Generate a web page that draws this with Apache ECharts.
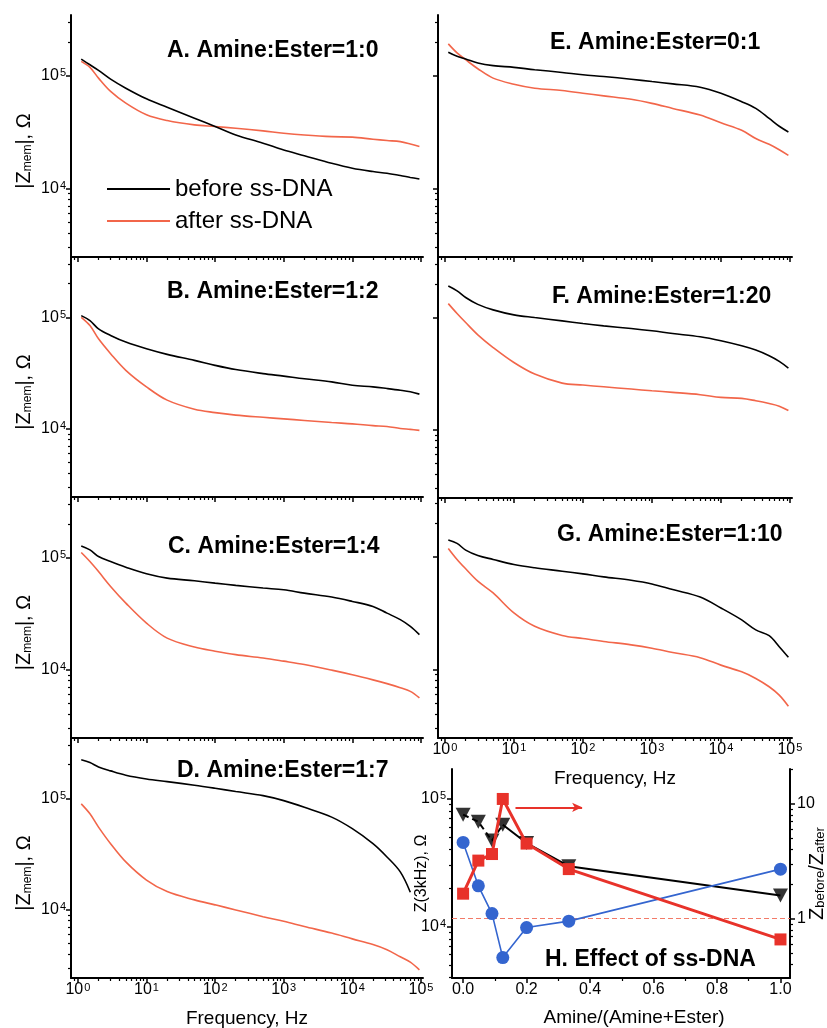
<!DOCTYPE html>
<html><head><meta charset="utf-8">
<script src="https://cdn.jsdelivr.net/npm/echarts@6/dist/echarts.min.js"></script>
<style>html,body{margin:0;padding:0;background:#fff}#c{width:827px;height:1028px}</style>
</head><body><div id="c"></div>
<script>
// ---------- data ----------
const freqHz = [1.12,1.5,2,3,5,10,20,50,100,200,500,1000,2000,5000,10000,20000,32000,50000,70000,95000];

const A_before = [140600,125300,111700,93400,77600,62400,52600,42000,35400,29800,25200,21900,19500,16700,15100,14100,13600,13000,12500,12100];
const A_after  = [134200,118700,95300,72600,57100,45000,40000,36600,35400,34200,32400,30900,29800,28800,28500,27300,26600,26000,24800,23500];
const B_before = [103500,93400,78700,68700,59900,52200,46500,41100,37100,34000,31300,29700,28100,26400,24600,23800,23000,22200,21500,20500];
const B_after  = [100000,84300,64100,47200,33500,23800,18100,15000,14000,13300,12700,12300,11900,11400,11100,10700,10500,10100,9900,9700];
const C_before = [127000,117000,102100,92100,82000,71600,65500,62000,59100,56400,53400,51600,48100,44400,40600,36600,31900,27900,24300,20500];
const C_after  = [110800,92100,75000,55200,39200,26000,19100,15900,14600,13600,12700,11900,11100,9900,9000,8100,7500,6900,6400,5600];
const D_before = [221000,209000,191000,176000,161000,149000,141000,131000,123000,115000,105600,95300,83100,67800,53400,39200,29800,21900,14400,null];
const D_after  = [89100,72600,55200,39200,26900,18500,14600,12300,11100,10000,8700,7900,7100,6200,5500,4900,4400,3800,3400,2900];
const E_before = [161900,148900,141000,129800,123000,118800,113200,107100,102100,98600,93300,88900,84800,79200,70000,58900,51300,41800,35600,31700];
const E_after  = [192000,159700,139000,115500,95300,84200,77600,74000,70000,66300,61800,56900,51300,44800,38200,32800,27700,24600,22000,19600];
const F_before = [191000,173000,151000,131000,117000,105600,100000,93400,88400,84300,79800,76100,72000,67300,62000,55900,51200,45600,40600,35400];
const F_after  = [133000,108600,90200,70100,54000,39700,31300,26000,25000,24100,23000,22200,21500,20500,19400,19000,18100,17100,16200,14800];
const G_before = [140900,131500,114700,102800,94700,85400,79800,74500,70500,66300,61900,57400,51100,43900,35100,27500,22400,19900,15900,12800];
const G_after  = [118700,94700,78200,60700,47700,31700,24100,20000,18800,17700,16500,15400,14100,12700,10900,9500,8300,7000,5900,4700];

const panelTitles = ['A. Amine:Ester=1:0','B. Amine:Ester=1:2','C. Amine:Ester=1:4','D. Amine:Ester=1:7',
                     'E. Amine:Ester=0:1','F. Amine:Ester=1:20','G. Amine:Ester=1:10'];
const seriesNames = ['before ss-DNA','after ss-DNA'];

// panel H
const H_fraction = [0, 0.048, 0.091, 0.125, 0.2, 0.333, 1.0];
const H_Zbefore  = [75000, 66000, 47000, 62500, 45000, 29600, 17500];
const H_Zafter   = [45500, 20800, 12600, 5700, 9800, 11000, 28100];
const H_ratio    = [1.65, 3.2, 3.65, 11.0, 4.5, 2.7, 0.66];
const H_title = 'H. Effect of ss-DNA';

// tick values
const freqMajor = [1,10,100,1000,10000,100000];
const freqMinor = [0.9,2,3,4,5,6,7,8,9,20,30,40,50,60,70,80,90,200,300,400,500,600,700,800,900,
  2000,3000,4000,5000,6000,7000,8000,9000,20000,30000,40000,50000,60000,70000,80000,90000];
const zMajor = [10000,100000];
const zMinorPanel = [3000,4000,5000,6000,7000,8000,9000,200000,300000];
const zMinorH = [4000,5000,6000,7000,8000,9000,20000,30000,40000,50000,60000,70000,80000,90000];
const ratioMajor = [1,10];
const ratioMinor = [0.4,0.5,0.6,0.7,0.8,0.9,2,3,4,5,6,7,8,9];
const fracMajor = [0,0.2,0.4,0.6,0.8,1.0];
const fracMinor = [0.1,0.3,0.5,0.7,0.9];

// ---------- layout / style ----------
const lg = Math.log10;
const FONT = 'Liberation Sans';
const RED = '#f2664a', BLACK = '#000000';
const H_RED = '#e8322a', H_BLUE = '#3465cf';
const gridBoxes = [
  {left:71, top:15, width:352, height:242},
  {left:71, top:257, width:352, height:240},
  {left:71, top:497, width:352, height:241},
  {left:71, top:738, width:352, height:240},
  {left:438, top:15, width:354, height:242},
  {left:438, top:257, width:354, height:241},
  {left:438, top:496, width:354, height:242},
  {left:452, top:769, width:338, height:209}
];
const titlePos = [[167,51],[167,292],[168,547],[177,771],[550,43],[552,297],[557,535]];
const X_MIN = -0.1, X_MAX = 5.03, Y_MIN = 3.39, Y_MAX = 5.54;

const supRich = {
  b: {fontSize:16, fontFamily:FONT, color:'#000'},
  s: {fontSize:11, fontFamily:FONT, color:'#000', verticalAlign:'top', padding:[0,0,0,1]}
};
const logLabel = v => '{b|10}{s|' + Math.round(v) + '}';

const xAxes = [], yAxes = [], series = [];
function addAxes(list, base, majorVals, minorVals, label, extra) {
  const main = Object.assign({}, base, {
    axisLine: {show:true, onZero:false, lineStyle:{color:'#000', width:2}},
    axisTick: {show:true, inside:false, length:5, customValues:majorVals, lineStyle:{color:'#000', width:1.5}},
    axisLabel: label ? Object.assign({show:true, customValues:majorVals}, label) : {show:false},
    splitLine: {show:false}, minorTick:{show:false}, nameMoveOverlap:false
  }, extra || {});
  const mi = Object.assign({}, base, {
    axisLine: {show:false, onZero:false},
    axisTick: {show:true, inside:false, length:3, customValues:minorVals, lineStyle:{color:'#000', width:1.2}},
    axisLabel: {show:false}, splitLine:{show:false}, minorTick:{show:false}
  });
  list.push(main, mi);
  return list.length - 2;
}

const panelData = [
  [A_before, A_after],[B_before, B_after],[C_before, C_after],[D_before, D_after],
  [E_before, E_after],[F_before, F_after],[G_before, G_after]
];
const freqLabel = {margin:4, formatter:logLabel, rich:supRich};
const zLabel = {margin:5, formatter:logLabel, rich:supRich};
const freqName = {name:'Frequency, Hz', nameLocation:'middle', nameGap:31,
  nameTextStyle:{fontSize:19, fontFamily:FONT, color:'#000'}};
const zName = {name:'|Z{sub|mem}|, Ω', nameLocation:'middle', nameGap:37,
  nameTextStyle:{fontSize:20, fontFamily:FONT, color:'#000', padding:[0,30,0,0],
    rich:{sub:{fontSize:12, fontFamily:FONT, color:'#000', verticalAlign:'bottom'}}}};

for (let i = 0; i < 7; i++) {
  const leftCol = i < 4;
  const bottomRow = (i === 3 || i === 6);
  const xi = addAxes(xAxes, {type:'value', gridIndex:i, position:'bottom', min:X_MIN, max:X_MAX},
    freqMajor.map(lg), freqMinor.map(lg), bottomRow ? freqLabel : null, bottomRow ? freqName : null);
  const yi = addAxes(yAxes, {type:'value', gridIndex:i, position:'left', min:Y_MIN, max:Y_MAX},
    zMajor.map(lg), zMinorPanel.map(lg), leftCol ? zLabel : null, leftCol ? zName : null);
  panelData[i].forEach((vals, k) => {
    const col = k === 0 ? BLACK : RED;
    series.push({
      type:'line', name: seriesNames[k], xAxisIndex:xi, yAxisIndex:yi,
      data: freqHz.map((f, j) => vals[j] == null ? null : [lg(f), lg(vals[j])]).filter(Boolean),
      showSymbol:false, smooth:0.35, color:col,
      itemStyle:{color:col}, lineStyle:{color:col, width:1.6}, z: k === 0 ? 3 : 2
    });
  });
}

// panel H axes
const hx = addAxes(xAxes, {type:'value', gridIndex:7, position:'bottom', min:-0.035, max:1.03},
  fracMajor, fracMinor, {margin:4, fontSize:16, fontFamily:FONT, color:'#000', formatter: v => v.toFixed(1)},
  {name:'Amine/(Amine+Ester)', nameLocation:'middle', nameGap:30,
   nameTextStyle:{fontSize:19, fontFamily:FONT, color:'#000', padding:[0,0,0,26]}});
const hyl = addAxes(yAxes, {type:'value', gridIndex:7, position:'left', min:3.596, max:5.233},
  zMajor.map(lg), zMinorH.map(lg), {margin:6, formatter:logLabel, rich:supRich},
  {name:'Z(3kHz), Ω', nameLocation:'middle', nameGap:22,
   nameTextStyle:{fontSize:16, fontFamily:FONT, color:'#000'}});
const hyr = addAxes(yAxes, {type:'value', gridIndex:7, position:'right', min:-0.516, max:1.302},
  ratioMajor.map(lg), ratioMinor.map(lg).concat([lg(20)]),
  {margin:7, fontSize:16, fontFamily:FONT, color:'#000', formatter: v => (Math.round(v) === 0 ? '1' : '10')},
  {name:'Z{sub|before}/Z{sub|after}', nameLocation:'middle', nameGap:17,
   nameTextStyle:{fontSize:20, fontFamily:FONT, color:'#000',
     rich:{sub:{fontSize:13, fontFamily:FONT, color:'#000', verticalAlign:'bottom'}}}});

const hBefore = H_fraction.map((x, j) => [x, lg(H_Zbefore[j])]);
series.push({type:'line', name:'Zbefore dashed', xAxisIndex:hx, yAxisIndex:hyl, data:hBefore.slice(0,4),
  showSymbol:false, lineStyle:{color:BLACK, width:2, type:[6,4]}, z:3});
series.push({type:'line', name:'Zbefore solid', xAxisIndex:hx, yAxisIndex:hyl, data:hBefore.slice(3),
  showSymbol:false, lineStyle:{color:BLACK, width:2}, z:3});
series.push({type:'scatter', name:'Zbefore', xAxisIndex:hx, yAxisIndex:hyl, data:hBefore,
  symbol:'triangle', symbolRotate:180, symbolSize:[15,14], itemStyle:{color:BLACK}, z:4});
series.push({type:'line', name:'Zafter', xAxisIndex:hx, yAxisIndex:hyl,
  data:H_fraction.map((x, j) => [x, lg(H_Zafter[j])]),
  symbol:'circle', symbolSize:13, showSymbol:true, color:H_BLUE,
  itemStyle:{color:H_BLUE}, lineStyle:{color:H_BLUE, width:1.6}, z:5});
series.push({type:'line', name:'ratio', xAxisIndex:hx, yAxisIndex:hyr,
  data:H_fraction.map((x, j) => [x, lg(H_ratio[j])]),
  symbol:'rect', symbolSize:12, showSymbol:true, color:H_RED,
  itemStyle:{color:H_RED}, lineStyle:{color:H_RED, width:3}, z:6,
  markLine:{silent:true, symbol:['none','none'], animation:false, label:{show:false},
    data:[
      {yAxis: lg(1), lineStyle:{color:'#f37a68', width:1, type:[5,3]}},
      [{coord:[0.165, lg(9.3)], symbol:'none'},
       {coord:[0.375, lg(9.3)], symbol:'arrow', symbolSize:[7,10], lineStyle:{color:H_RED, width:2.2, type:'solid'}}]
    ]}
});

const graphics = panelTitles.map((t, i) => ({
  type:'text', x:titlePos[i][0], y:titlePos[i][1], z:100,
  style:{text:t, fontSize:23, fontWeight:'bold', fontFamily:FONT, fill:'#000', align:'left', verticalAlign:'middle'}
}));
graphics.push({type:'text', x:545, y:960, z:100,
  style:{text:H_title, fontSize:23, fontWeight:'bold', fontFamily:FONT, fill:'#000', align:'left', verticalAlign:'middle'}});

const chart = echarts.init(document.getElementById('c'), null, {renderer:'canvas', width:827, height:1028});
chart.setOption({
  animation:false,
  backgroundColor:'#ffffff',
  textStyle:{fontFamily:FONT},
  grid: gridBoxes.map(g => Object.assign({show:false, containLabel:false, outerBoundsMode:'none'}, g)),
  xAxis: xAxes,
  yAxis: yAxes,
  legend:{show:true, orient:'vertical', left:107, top:177, itemWidth:63, itemHeight:2, icon:'rect',
    itemGap:8, padding:0, selectedMode:false, data:seriesNames,
    textStyle:{fontSize:24, fontFamily:FONT, color:'#000', lineHeight:22}},
  series: series,
  graphic: graphics
});
</script>
</body></html>
